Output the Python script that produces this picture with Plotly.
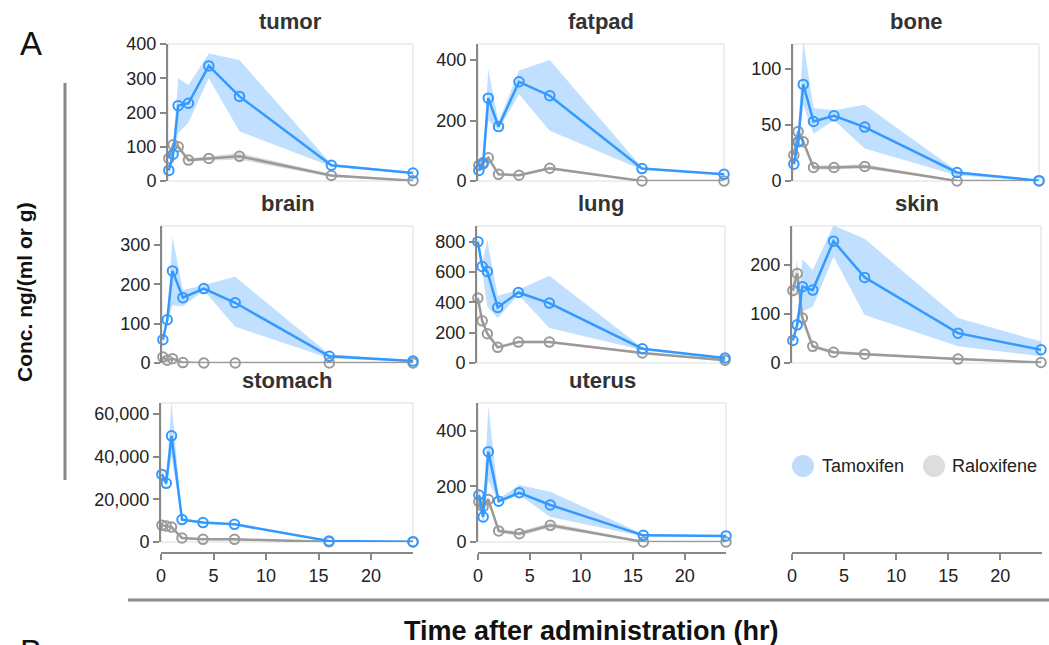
import plotly.graph_objects as go

W, H = 1049, 645

# ---------------- data ----------------
time_hr = [0.083, 0.5, 1, 2, 4, 7, 16, 24]

organs = ["tumor", "fatpad", "bone", "brain", "lung", "skin", "stomach", "uterus"]

tumor_tam = [31, 78, 220, 227, 336, 247, 46, 23]
tumor_tam_lo = [25, 62, 140, 170, 300, 145, 42, 20]
tumor_tam_hi = [37, 105, 300, 280, 372, 353, 50, 26]
tumor_ral = [66, 106, 100, 61, 66, 72, 16, 1]
tumor_ral_lo = [60, 95, 92, 56, 60, 62, 12, 0]
tumor_ral_hi = [72, 117, 108, 66, 72, 82, 20, 3]

fatpad_tam = [35, 57, 274, 180, 328, 282, 41, 22]
fatpad_tam_lo = [30, 45, 200, 170, 287, 166, 37, 20]
fatpad_tam_hi = [40, 70, 370, 195, 365, 400, 45, 24]
fatpad_ral = [52, 61, 77, 22, 19, 42, 0, 0]
fatpad_ral_lo = [47, 56, 71, 18, 15, 37, 0, 0]
fatpad_ral_hi = [57, 66, 83, 26, 23, 47, 2, 2]

bone_tam = [15, 35, 86, 53, 58, 48, 7.6, 0.3]
bone_tam_lo = [12, 30, 68, 42, 54, 29, 5, 0]
bone_tam_hi = [18, 42, 125, 65, 63, 68, 9, 0.6]
bone_ral = [23, 44, 35, 12, 12, 13, 0, 0]
bone_ral_lo = [21, 41, 32, 10, 10, 11, 0, 0]
bone_ral_hi = [25, 47, 38, 14, 14, 15, 1, 1]

brain_tam = [59, 110, 234, 166, 189, 153, 17, 5]
brain_tam_lo = [50, 100, 147, 144, 185, 92, 12, 3]
brain_tam_hi = [68, 120, 321, 185, 198, 219, 22, 7]
brain_ral = [15, 7, 11, 1, 0, 0, 0, 0]
brain_ral_lo = [12, 5, 8, 0, 0, 0, 0, 0]
brain_ral_hi = [18, 9, 14, 2, 1, 1, 1, 1]

lung_tam = [800, 636, 603, 366, 465, 395, 94, 33]
lung_tam_lo = [780, 610, 370, 296, 450, 230, 85, 25]
lung_tam_hi = [820, 660, 811, 443, 482, 575, 100, 38]
lung_ral = [428, 278, 193, 103, 138, 138, 66, 18]
lung_ral_lo = [400, 260, 175, 95, 130, 130, 60, 12]
lung_ral_hi = [455, 296, 211, 111, 146, 146, 72, 24]

skin_tam = [46, 78, 156, 149, 249, 175, 61, 27]
skin_tam_lo = [40, 70, 105, 115, 217, 98, 34, 14]
skin_tam_hi = [52, 90, 212, 190, 281, 254, 92, 44]
skin_ral = [148, 183, 92, 34, 22, 18, 8, 1]
skin_ral_lo = [135, 160, 82, 30, 19, 15, 6, 0]
skin_ral_hi = [165, 210, 102, 38, 25, 21, 10, 2]

stomach_tam = [31700, 27500, 49800, 10500, 9100, 8300, 470, 160]
stomach_tam_lo = [29500, 26000, 40000, 9800, 8600, 7800, 300, 100]
stomach_tam_hi = [33500, 29000, 66000, 11200, 9600, 8800, 640, 220]
stomach_ral = [7850, 7500, 7000, 1900, 1260, 1260, 60, 20]
stomach_ral_lo = [7450, 7100, 6600, 1500, 900, 900, 0, 0]
stomach_ral_hi = [8250, 7900, 7400, 2300, 1600, 1600, 300, 200]

uterus_tam = [169, 90, 325, 147, 177, 133, 24, 22]
uterus_tam_lo = [140, 60, 223, 140, 169, 90, 20, 20]
uterus_tam_hi = [200, 120, 488, 155, 205, 181, 28, 24]
uterus_ral = [145, 127, 153, 40, 30, 60, 0, 0]
uterus_ral_lo = [135, 117, 143, 32, 22, 50, 0, 0]
uterus_ral_hi = [155, 137, 163, 48, 38, 70, 4, 4]

y_ticks = {
    "tumor": [0, 100, 200, 300, 400],
    "fatpad": [0, 200, 400],
    "bone": [0, 50, 100],
    "brain": [0, 100, 200, 300],
    "lung": [0, 200, 400, 600, 800],
    "skin": [0, 100, 200],
    "stomach": [0, 20000, 40000, 60000],
    "uterus": [0, 200, 400],
}
x_ticks = [0, 5, 10, 15, 20]
series_names = ["Tamoxifen", "Raloxifene"]

# ------------- build table from the arrays -------------
g = globals()
data = {o: {"tam": (g[o + "_tam"], g[o + "_tam_lo"], g[o + "_tam_hi"]),
            "ral": (g[o + "_ral"], g[o + "_ral_lo"], g[o + "_ral_hi"])} for o in organs}

# ------------- layout geometry (pixels) -------------
panel_px = {
    "tumor":   (168, 413, 44, 181, 400),
    "fatpad":  (478, 724, 44, 181, 453),
    "bone":    (793, 1039, 44, 181, 122),
    "brain":   (162, 413, 226, 363, 348),
    "lung":    (477, 725, 226, 363, 903),
    "skin":    (792, 1041, 226, 363, 280),
    "stomach": (161, 413, 403, 542, 65200),
    "uterus":  (478, 726, 403, 542, 500),
}
xaxis_y_px = 553

FONT = "Liberation Sans, Arial, Helvetica, sans-serif"
BLUE = "#3399ff"
BLUE_BAND = "rgba(51,153,255,0.30)"
GRAY = "#9a9a9a"
GRAY_BAND = "rgba(150,150,150,0.30)"
AXIS = "#888888"


def xd(a, b):
    return [a / W, b / W]


def yd(top, bottom):
    return [1 - bottom / H, 1 - top / H]


fig = go.Figure()
layout = {}
shapes = []
annotations = []

for i, organ in enumerate(organs, start=1):
    xa = "x" if i == 1 else f"x{i}"
    ya = "y" if i == 1 else f"y{i}"
    x0, x1, top, bottom, ymax = panel_px[organ]
    d = data[organ]
    for key, band in (("ral", GRAY_BAND), ("tam", BLUE_BAND)):
        mean, lo, hi = d[key]
        fig.add_trace(go.Scatter(
            x=time_hr + time_hr[::-1], y=hi + lo[::-1], xaxis=xa, yaxis=ya,
            fill="toself", fillcolor=band, line=dict(width=0),
            mode="lines", hoverinfo="skip", showlegend=False))
    for key, col, name in (("ral", GRAY, "Raloxifene"), ("tam", BLUE, "Tamoxifen")):
        mean = d[key][0]
        fig.add_trace(go.Scatter(
            x=time_hr, y=mean, xaxis=xa, yaxis=ya, name=name,
            mode="lines+markers", cliponaxis=False, showlegend=False,
            line=dict(color=col, width=2.5),
            marker=dict(symbol="circle-open", size=9.5, color=col, line=dict(width=2))))

    show_x = organ in ("stomach", "uterus")
    xkey = "xaxis" if i == 1 else f"xaxis{i}"
    ykey = "yaxis" if i == 1 else f"yaxis{i}"
    xcfg = dict(domain=xd(x0, x1), range=[0, 24], showgrid=False, zeroline=False,
                fixedrange=True)
    if show_x:
        xcfg.update(anchor="free", position=1 - xaxis_y_px / H, visible=True,
                    showline=True, linecolor=AXIS, linewidth=2, ticks="outside",
                    ticklen=6, tickcolor=AXIS, tickwidth=1.5, tickvals=x_ticks,
                    tickfont=dict(family=FONT, size=18, color="#222"))
    else:
        xcfg.update(anchor=ya, visible=False)
    layout[xkey] = xcfg
    layout[ykey] = dict(domain=yd(top, bottom), range=[0, ymax], anchor=xa,
                        showgrid=False, zeroline=False, showline=True,
                        linecolor=AXIS, linewidth=2, ticks="outside", ticklen=6,
                        tickcolor=AXIS, tickwidth=1.5, tickvals=y_ticks[organ],
                        tickformat=",", fixedrange=True,
                        tickfont=dict(family=FONT, size=18, color="#222"))
    # light frame around the plot area
    shapes.append(dict(type="rect", xref=f"{xa} domain", yref=f"{ya} domain",
                       x0=0, x1=1, y0=0, y1=1, line=dict(color="#dddddd", width=1),
                       layer="below"))
    annotations.append(dict(text=f"<b>{organ}</b>", xref=f"{xa} domain",
                            yref=f"{ya} domain", x=0.5, y=1, xanchor="center",
                            yanchor="bottom", yshift=8, showarrow=False,
                            font=dict(family=FONT, size=22, color="#333")))

# x axis under the third column (no panel in that cell)
fig.add_trace(go.Scatter(x=[None], y=[None], xaxis="x9", yaxis="y9",
                         showlegend=False, hoverinfo="skip"))
layout["xaxis9"] = dict(domain=xd(792, 1042), range=[0, 24], anchor="free",
                        position=1 - xaxis_y_px / H, showline=True, linecolor=AXIS,
                        linewidth=2, ticks="outside", ticklen=6, tickcolor=AXIS,
                        tickwidth=1.5, tickvals=x_ticks, showgrid=False,
                        zeroline=False, fixedrange=True,
                        tickfont=dict(family=FONT, size=18, color="#222"))
layout["yaxis9"] = dict(domain=yd(403, 542), range=[0, 1], anchor="x9",
                        visible=False, fixedrange=True)

# outer decorations
shapes.append(dict(type="line", xref="paper", yref="paper",
                   x0=65 / W, x1=65 / W, y0=1 - 480 / H, y1=1 - 83 / H,
                   line=dict(color=AXIS, width=3)))
shapes.append(dict(type="line", xref="paper", yref="paper",
                   x0=128 / W, x1=1.0, y0=1 - 600 / H, y1=1 - 600 / H,
                   line=dict(color=AXIS, width=3)))

# legend (drawn as swatches + labels)
legend_items = [(series_names[0], "#bfdcfb", 803, 820), (series_names[1], "#dddddd", 934, 950)]
for name, col, cx, tx in legend_items:
    shapes.append(dict(type="circle", xref="paper", yref="paper",
                       x0=(cx - 11) / W, x1=(cx + 11) / W,
                       y0=1 - (466 + 11) / H, y1=1 - (466 - 11) / H,
                       fillcolor=col, line=dict(width=0)))
    annotations.append(dict(text=name, xref="paper", yref="paper", x=tx / W,
                            y=1 - 466 / H, xanchor="left", yanchor="middle",
                            showarrow=False,
                            font=dict(family=FONT, size=18, color="#222")))

annotations += [
    dict(text="<b>Conc. ng/(ml or g)</b>", xref="paper", yref="paper",
         x=24 / W, y=1 - 292 / H, textangle=-90, showarrow=False,
         xanchor="center", yanchor="middle",
         font=dict(family=FONT, size=21, color="#111")),
    dict(text="<b>Time after administration (hr)</b>", xref="paper", yref="paper",
         x=591 / W, y=1 - 631 / H, showarrow=False, xanchor="center",
         yanchor="middle", font=dict(family=FONT, size=27, color="#111")),
    dict(text="A", xref="paper", yref="paper", x=31 / W, y=1 - 44 / H,
         showarrow=False, xanchor="center", yanchor="middle",
         font=dict(family=FONT, size=33, color="#111")),
    dict(text="B", xref="paper", yref="paper", x=31 / W, y=1 - 631 / H,
         showarrow=False, xanchor="center", yanchor="top",
         font=dict(family=FONT, size=33, color="#111")),
]

fig.update_layout(
    width=W, height=H,
    margin=dict(l=0, r=0, t=0, b=0, autoexpand=False),
    paper_bgcolor="white", plot_bgcolor="white", showlegend=False,
    shapes=shapes, annotations=annotations,
    font=dict(family=FONT), **layout)

fig.write_html("out.html", config={"displayModeBar": False})
